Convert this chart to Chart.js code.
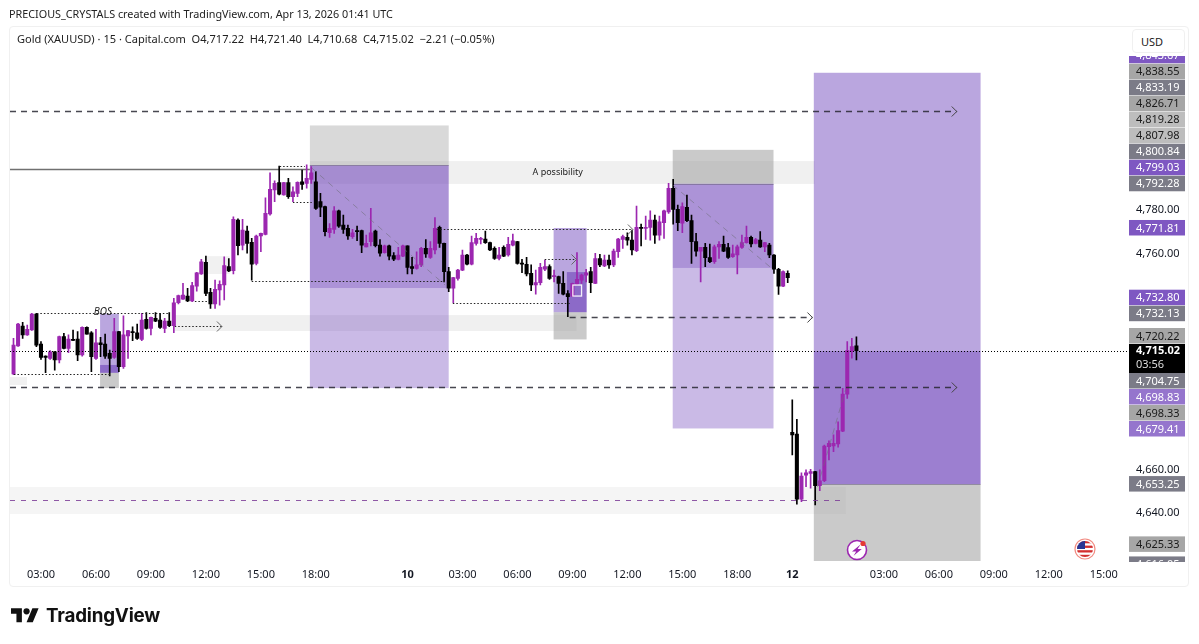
<!DOCTYPE html>
<html><head><meta charset="utf-8">
<style>
html,body{margin:0;padding:0;background:#fff;width:1199px;height:644px;overflow:hidden}
body{font-family:"Noto Sans",sans-serif;color:#131722;position:relative}
#frame{position:absolute;left:9px;top:26px;width:1180px;height:561px;border:1px solid #f0f0f0;border-radius:4px;box-sizing:border-box}
canvas{position:absolute;left:0;top:0}
#credit{position:absolute;left:9px;top:6px;font-size:10.8px;line-height:16px;white-space:nowrap;color:#222}
#legend{position:absolute;left:17px;top:31px;font-size:11.05px;line-height:16px;white-space:pre;color:#222}
#usd{position:absolute;left:1132px;top:29px;width:53px;height:24px;box-sizing:border-box;border:1px solid #f0f0f0;border-radius:4px;background:#fff;font-size:11px;line-height:24px;padding-left:8px;color:#222}
#brand{position:absolute;left:46px;top:602px;font-family:Inter,Roboto,sans-serif;font-weight:700;font-size:18.8px;line-height:28px;letter-spacing:-.2px;color:#111}
svg{position:absolute}
</style>
<script src="https://cdn.jsdelivr.net/npm/chart.js@4/dist/chart.umd.min.js"></script>
</head><body>
<div id="frame"></div>
<canvas id="c" width="1199" height="644"></canvas>
<div id="credit">PRECIOUS_CRYSTALS created with TradingView.com, Apr 13, 2026 01:41 UTC</div>
<div id="legend">Gold (XAUUSD) · 15 · Capital.com  O4,717.22  H4,721.40  L4,710.68  C4,715.02  −2.21 (−0.05%)</div>
<div id="usd">USD</div>
<svg style="left:11px;top:605px" width="28" height="22" viewBox="0 0 36 28"><path fill="#111" d="M14 22H7V11H0V4h14v18zM28 22h-8l7.5-18h8L28 22z"/><circle fill="#111" cx="20" cy="8" r="4"/></svg>
<div id="brand">TradingView</div>
<svg style="left:846px;top:539px" width="22" height="22" viewBox="0 0 22 22"><circle cx="11" cy="11" r="9.5" fill="#fff" stroke="#9c27b0" stroke-width="1.6"/><path d="M14.5 5.5L6 12.4h4.2L7.6 16.8l8.2-6.8h-4.2z" fill="#9c27b0"/><circle cx="17" cy="4.5" r="2.6" fill="#e53935"/></svg>
<svg style="left:1074px;top:538px" width="22" height="22" viewBox="0 0 22 22"><defs><clipPath id="fc"><circle cx="11" cy="11" r="8"/></clipPath></defs><circle cx="11" cy="11" r="10" fill="#fff" stroke="#f28b82" stroke-width="1.2"/><g clip-path="url(#fc)"><rect x="3" y="3" width="16" height="16" fill="#fff"/><rect x="3" y="3" width="16" height="2.3" fill="#d32f2f"/><rect x="3" y="7.6" width="16" height="2.3" fill="#d32f2f"/><rect x="3" y="12.2" width="16" height="2.3" fill="#d32f2f"/><rect x="3" y="16.8" width="16" height="2.3" fill="#d32f2f"/><rect x="3" y="3" width="8" height="8" fill="#283593"/></g></svg>
<script>
const opens=[4704.2,4717.2,4726.4,4722.3,4724.6,4732.0,4718.1,4712.5,4711.4,4714.5,4710.7,4721.5,4716.1,4720.1,4720.4,4713.0,4725.8,4723.3,4711.4,4718.7,4718.1,4713.8,4711.9,4723.8,4707.6,4721.8,4723.8,4723.3,4720.2,4729.5,4725.3,4730.0,4729.2,4725.3,4728.7,4726.6,4737.2,4738.9,4740.3,4738.1,4744.9,4750.5,4755.9,4742.0,4736.6,4743.1,4745.4,4753.9,4752.1,4775.5,4763.9,4770.4,4765.2,4755.4,4768.1,4768.8,4778.3,4789.4,4792.8,4787.1,4792.8,4786.3,4787.8,4793.2,4792.5,4794.3,4793.2,4784.0,4781.7,4769.6,4771.2,4779.8,4773.2,4771.6,4767.8,4770.4,4770.6,4763.1,4765.5,4770.4,4763.9,4760.4,4763.6,4759.0,4757.3,4758.8,4763.5,4753.9,4753.1,4754.7,4762.4,4758.2,4761.6,4772.1,4764.7,4751.6,4743.9,4748.5,4752.3,4759.3,4755.1,4764.7,4766.5,4766.7,4765.0,4762.4,4757.7,4762.8,4759.3,4763.9,4765.5,4755.4,4755.0,4750.8,4745.4,4746.5,4752.7,4753.9,4749.3,4749.3,4746.2,4741.5,4740.3,4745.9,4747.7,4750.0,4751.6,4746.2,4757.7,4754.2,4757.0,4754.7,4760.8,4766.5,4767.5,4766.2,4761.3,4772.1,4771.6,4772.1,4775.5,4768.5,4774.3,4779.3,4790.2,4780.4,4774.0,4781.4,4775.2,4765.5,4761.1,4762.8,4758.1,4756.2,4763.1,4764.2,4762.7,4758.5,4759.3,4762.8,4765.0,4767.5,4764.7,4766.2,4763.1,4763.9,4759.3,4752.7,4744.9,4750.8,4677.2,4676.4,4646.3,4657.4,4658.2,4659.0,4652.5,4654.8,4670.6,4670.9,4671.8,4677.8,4694.9,4714.7,4717.22];
const highs=[4720.7,4727.7,4728.1,4726.9,4732.3,4732.3,4719.2,4712.6,4715.0,4714.6,4721.8,4723.0,4722.3,4724.6,4723.8,4726.1,4726.1,4723.8,4724.9,4721.2,4722.7,4715.3,4730.0,4724.0,4731.2,4724.4,4726.1,4727.3,4732.3,4732.7,4730.6,4732.7,4732.3,4730.0,4732.6,4739.2,4740.8,4746.2,4743.9,4746.6,4751.3,4757.3,4758.8,4743.9,4747.7,4747.4,4758.5,4757.7,4777.0,4776.0,4775.8,4772.7,4767.0,4768.5,4769.5,4785.8,4797.4,4793.7,4800.5,4793.0,4794.8,4790.9,4793.2,4798.6,4801.0,4800.2,4797.9,4787.8,4782.0,4773.9,4781.7,4780.1,4777.8,4773.2,4771.2,4772.7,4770.9,4768.5,4780.9,4770.9,4766.5,4763.9,4763.9,4760.4,4762.8,4763.9,4763.6,4758.2,4760.8,4762.8,4766.5,4765.5,4776.6,4772.7,4764.8,4753.6,4749.0,4752.7,4761.6,4759.6,4768.1,4769.3,4767.5,4770.4,4765.3,4763.1,4762.8,4763.5,4767.5,4769.0,4765.6,4757.3,4758.2,4754.7,4752.3,4755.4,4757.0,4754.7,4752.3,4749.6,4751.6,4742.8,4746.3,4760.4,4750.5,4752.7,4753.6,4760.1,4759.6,4759.3,4759.3,4762.1,4767.0,4768.5,4769.6,4770.9,4782.0,4773.6,4777.3,4779.7,4777.8,4777.3,4780.1,4792.5,4794.3,4782.4,4783.5,4787.1,4777.8,4769.3,4762.8,4764.7,4764.4,4763.9,4765.5,4768.1,4764.7,4763.9,4763.9,4768.5,4772.7,4768.1,4767.0,4770.1,4765.2,4764.7,4759.5,4753.1,4752.0,4752.0,4692.2,4683.2,4658.5,4659.8,4660.1,4659.2,4659.8,4671.3,4673.3,4676.0,4682.1,4697.6,4719.2,4720.7,4721.40];
const lows=[4703.9,4717.0,4720.7,4722.1,4724.4,4716.9,4711.0,4704.8,4711.0,4706.0,4709.4,4715.8,4714.1,4719.6,4710.4,4712.5,4722.6,4705.3,4711.0,4712.2,4711.4,4703.3,4711.4,4705.3,4706.8,4711.4,4719.6,4720.2,4719.6,4725.0,4722.3,4728.4,4725.3,4723.3,4726.1,4723.3,4736.6,4738.7,4737.7,4737.7,4742.6,4750.3,4740.5,4734.6,4734.6,4736.1,4738.5,4751.6,4750.5,4759.3,4761.6,4760.1,4747.7,4754.7,4760.8,4768.6,4777.8,4784.0,4787.1,4787.0,4785.5,4784.0,4786.3,4789.7,4790.2,4792.5,4780.4,4777.0,4768.1,4767.5,4769.3,4772.1,4769.3,4766.5,4767.0,4765.9,4760.4,4763.0,4763.5,4763.1,4758.8,4760.1,4757.0,4756.7,4757.0,4758.5,4750.5,4750.5,4752.7,4753.9,4758.2,4757.7,4759.8,4762.8,4746.9,4742.3,4737.2,4747.7,4752.0,4754.7,4754.7,4763.9,4764.4,4764.7,4761.3,4757.3,4757.0,4758.5,4758.8,4763.5,4755.1,4751.1,4749.6,4742.8,4741.2,4745.4,4752.0,4748.0,4746.9,4741.5,4740.8,4730.7,4740.0,4745.4,4746.2,4746.9,4741.9,4746.0,4753.9,4753.9,4753.1,4753.9,4758.2,4762.4,4763.9,4759.3,4760.8,4763.5,4766.5,4766.2,4764.7,4766.2,4767.0,4778.6,4773.6,4770.6,4769.6,4774.7,4755.4,4758.8,4746.9,4753.9,4755.7,4755.4,4757.7,4760.8,4757.7,4758.2,4750.5,4762.4,4764.8,4763.1,4764.4,4762.8,4760.8,4758.1,4750.8,4741.1,4744.6,4746.5,4666.7,4644.0,4645.1,4652.0,4651.3,4643.6,4650.2,4654.4,4664.4,4668.2,4670.3,4677.5,4692.9,4711.5,4710.68];
const closes=[4717.6,4727.3,4722.3,4724.9,4732.0,4717.6,4711.9,4711.9,4714.5,4710.7,4721.5,4716.1,4720.4,4719.8,4713.0,4725.8,4722.7,4712.2,4718.7,4717.8,4712.5,4711.4,4723.8,4707.6,4722.3,4724.3,4723.3,4720.7,4729.2,4725.3,4730.4,4728.7,4725.8,4728.7,4726.6,4737.2,4740.5,4740.8,4738.1,4745.1,4751.0,4756.2,4741.5,4736.6,4743.4,4745.7,4754.4,4751.9,4775.8,4763.6,4770.9,4764.7,4755.1,4768.1,4769.3,4778.6,4789.7,4792.5,4787.5,4792.8,4786.3,4788.6,4793.0,4792.0,4794.8,4797.4,4780.9,4781.4,4770.1,4771.6,4779.8,4772.7,4771.2,4768.1,4769.6,4770.1,4763.9,4764.7,4769.6,4763.6,4760.1,4763.6,4758.8,4757.4,4759.3,4763.5,4753.6,4753.1,4754.7,4762.4,4759.8,4762.4,4771.6,4764.7,4751.6,4743.9,4748.9,4752.3,4759.3,4755.1,4765.0,4767.0,4767.0,4765.0,4761.6,4757.7,4759.3,4758.8,4764.2,4765.9,4755.4,4755.1,4750.5,4745.4,4746.5,4753.6,4753.9,4748.5,4749.6,4746.2,4741.2,4740.0,4746.2,4748.0,4750.0,4751.1,4746.5,4757.7,4754.7,4757.0,4754.7,4761.1,4766.7,4767.8,4766.2,4761.6,4772.1,4771.6,4771.9,4775.5,4768.5,4774.7,4779.8,4790.2,4780.4,4774.3,4781.7,4775.2,4765.5,4761.1,4762.8,4758.1,4756.2,4763.1,4764.2,4761.1,4758.2,4759.8,4763.1,4765.0,4767.5,4764.4,4766.5,4763.1,4765.0,4759.3,4752.7,4744.9,4751.6,4748.8,4676.0,4646.3,4657.0,4658.5,4659.0,4652.5,4654.8,4670.9,4672.1,4672.1,4678.0,4694.9,4715.0,4716.9,4715.02];
const slotCount=244;
const timeLabelIndex=[6,18,30,42,54,66,86,98,110,122,134,146,158,170,190,202,214,226,238];
const timeLabelText=['03:00','06:00','09:00','12:00','15:00','18:00','10','03:00','06:00','09:00','12:00','15:00','18:00','12','03:00','06:00','09:00','12:00','15:00'];
const yTicks=[4640,4660,4760,4780];
const lastPrice=4715.02, lastCountdown='03:56';
const priceAbove=[4843.67,4838.55,4833.19,4826.71,4819.28,4807.98,4800.84,4799.03,4792.28,4771.81,4732.80,4732.13,4720.22];
const priceBelow=[4704.75,4698.83,4698.33,4679.41,4653.25,4625.33,4616.05];
const priceKinds={4843.67:'p',4838.55:'m',4833.19:'d',4826.71:'m',4819.28:'l',4807.98:'l',4800.84:'d',4799.03:'p',4792.28:'d',4771.81:'p',4732.80:'p',4732.13:'d',4720.22:'m',4704.75:'d',4698.83:'q',4698.33:'m',4679.41:'q',4653.25:'d',4625.33:'m',4616.05:'d'};
/* zones: [from index, to index, top price, bottom price, kind] */
const strips=[[64.7,174.9,4802.8,4792.2,'#f0f0f0'],[35.2,122.9,4731.5,4724.1,'#f0f0f0'],[-0.76,181.7,4651.9,4639.4,'#f5f5f5'],[42.2,47.2,4758.8,4750.5,'#f1f1f1'],[-0.76,2.95,4702.8,4699.1,'#f1f1f1']];
const zones=[[64.7,95,4819.28,4800.84,'g2'],[64.7,95,4800.84,4744,'p2'],[64.7,95,4744,4697.7,'p0'],
[143.9,165.9,4807.98,4792.28,'g1'],[143.9,165.9,4792.28,4753.3,'p2'],[143.9,165.9,4753.3,4679,'p0'],
[174.7,211.1,4843.67,4715.02,'p1'],[174.7,211.1,4715.02,4653.25,'p3'],[174.7,211.1,4653.25,4617.64,'g1'],
[117.9,125.1,4771.81,4732.8,'p1'],[120.8,125.1,4751.4,4732.8,'p2'],[117.9,125.1,4732.8,4720.22,'g1'],
[18.9,23,4732.13,4704.75,'p1'],[18.9,23,4708.4,4704.75,'p2'],[18.9,23,4704.75,4697.7,'g1']];
const solidLines=[[-0.76,64.7,4799.03],[64.7,95,4800.84],[143.9,165.9,4792.28],[174.7,211.1,4653.25]];
const dashedLines=[[-0.76,205.9,4826.0],[-0.76,205.9,4698.0],[121.4,174.4,4730.6]];
const dottedLines=[[5.1,34.1,4732.3,0],[0.1,21.1,4704.2,0],[39.6,42.4,4738.1,0],[35.2,45.5,4726.6,1],[52,94.2,4747.4,0],[58.1,63.6,4800.6,0],[61,65.1,4784,0],[92.4,135.2,4771.3,1],[95.9,121.4,4737.2,0],[115.97,122.9,4757.3,1]];
const diagonals=[[65.1,4799.6,94.2,4745.4],[143.9,4791.7,165.7,4752.8],[175.5,4651.9,181.6,4696.8]];
const targetLine=[-0.76,181.7,4645.9];
const markerBox=[122.1,124,4745.4,4740.3];
const notes=[['A possibility',118.8,4797.7,'9px "Noto Sans"'],['BOS',19.5,4733,'italic 10px "Noto Sans"']];

const labels=Array.from({length:slotCount},()=> '');
timeLabelIndex.forEach((k,n)=>labels[k]=timeLabelText[n]);
const upColor='#9c27b0',downColor='#000000';
const candleColors=opens.map((o,i)=>closes[i]>=o?upColor:downColor);
const fmt=v=>v.toLocaleString('en-US',{minimumFractionDigits:2,maximumFractionDigits:2});
const fills={g1:'rgba(150,150,150,.5)',g2:'rgba(150,150,150,.36)',p0:'rgba(103,58,183,.35)',p1:'rgba(103,58,183,.45)',p2:'rgba(103,58,183,.55)',p3:'rgba(103,58,183,.65)'};
const pillStyles={p:['#7e57c2','#fff'],q:['#9575cd','#fff'],d:['#7b7b87','#fff'],m:['#a6a6a6','#1a1a1a'],l:['#bdbdbd','#1a1a1a']};

const overlay={id:'overlay',
 beforeDatasetsDraw(ch){const c=ch.ctx,x=ch.scales.x,y=ch.scales.y;c.save();
  strips.forEach(s=>{const a=x.getPixelForValue(s[0]),b=x.getPixelForValue(s[1]),t=y.getPixelForValue(s[2]),u=y.getPixelForValue(s[3]);
   c.fillStyle=s[4];c.fillRect(a,t,b-a,u-t);c.fillStyle='#fff';c.fillRect(a,t-1,b-a,1);c.fillRect(a,u,b-a,1);});
  zones.forEach(s=>{const a=x.getPixelForValue(s[0]),b=x.getPixelForValue(s[1]),t=y.getPixelForValue(s[2]),u=y.getPixelForValue(s[3]);
   c.fillStyle=fills[s[4]];c.fillRect(a,t,b-a,u-t);});
  solidLines.forEach((s,i)=>{const py=Math.round(y.getPixelForValue(s[2]))+.5;c.strokeStyle=i==0?'#707070':'rgba(110,100,130,.6)';c.lineWidth=i==0?1.6:1.2;c.beginPath();c.moveTo(x.getPixelForValue(s[0]),py);c.lineTo(x.getPixelForValue(s[1]),py);c.stroke();});
  c.restore();},
 afterDatasetsDraw(ch){const c=ch.ctx,x=ch.scales.x,y=ch.scales.y;c.save();
  const chev=(px,py,col)=>{c.setLineDash([]);c.strokeStyle=col;c.lineWidth=1;c.beginPath();c.moveTo(px-5,py-5);c.lineTo(px,py);c.lineTo(px-5,py+5);c.stroke();};
  const py0=Math.round(y.getPixelForValue(lastPrice))+.5;
  c.setLineDash([1,2]);c.strokeStyle='#000';c.lineWidth=1;c.beginPath();c.moveTo(x.getPixelForValue(-0.76),py0);c.lineTo(x.right,py0);c.stroke();
  dottedLines.forEach(d=>{const py=Math.round(y.getPixelForValue(d[2]))+.5,a=x.getPixelForValue(d[0]),b=x.getPixelForValue(d[1]);
   c.setLineDash([1.5,2]);c.strokeStyle='#222';c.lineWidth=1;c.beginPath();c.moveTo(a,py);c.lineTo(b,py);c.stroke();if(d[3])chev(b,py,'#666');});
  dashedLines.forEach(d=>{const py=Math.round(y.getPixelForValue(d[2]))+.5,a=x.getPixelForValue(d[0]),b=x.getPixelForValue(d[1]);
   c.setLineDash([6,5]);c.strokeStyle='rgba(40,40,50,.85)';c.lineWidth=1.5;c.beginPath();c.moveTo(a,py);c.lineTo(b,py);c.stroke();chev(b,py,'#444');});
  {const py=Math.round(y.getPixelForValue(targetLine[2]))+.5;c.setLineDash([5,6]);c.strokeStyle='rgba(123,60,150,.85)';c.lineWidth=1;c.beginPath();c.moveTo(x.getPixelForValue(targetLine[0]),py);c.lineTo(x.getPixelForValue(targetLine[1]),py);c.stroke();}
  diagonals.forEach(d=>{c.setLineDash([6,5]);c.strokeStyle='rgba(110,110,120,.55)';c.lineWidth=1;c.beginPath();c.moveTo(x.getPixelForValue(d[0]),y.getPixelForValue(d[1]));c.lineTo(x.getPixelForValue(d[2]),y.getPixelForValue(d[3]));c.stroke();});
  c.setLineDash([]);c.strokeStyle='rgba(255,255,255,.9)';c.lineWidth=1.3;
  {const a=x.getPixelForValue(markerBox[0]),b=x.getPixelForValue(markerBox[1]),t=y.getPixelForValue(markerBox[2]),u=y.getPixelForValue(markerBox[3]);c.strokeRect(a,t,b-a,u-t);}
  c.textAlign='center';c.textBaseline='middle';c.fillStyle='#222';
  notes.forEach(n=>{c.font=n[3];c.fillText(n[0],x.getPixelForValue(n[1]),y.getPixelForValue(n[2]));});
  c.restore();},
 afterDraw(ch){const c=ch.ctx,y=ch.scales.y;c.save();
  const L=ch.chartArea.right,W=56,H=16;
  c.beginPath();c.rect(L,56,W+2,506);c.clip();
  const boxTop=Math.round(y.getPixelForValue(lastPrice))-7,boxH=29;
  const pos={};let lim=boxTop-H/2;
  for(let k=priceAbove.length-1;k>=0;k--){const v=priceAbove[k],t=Math.min(y.getPixelForValue(v),lim);pos[v]=t;lim=t-H;}
  lim=boxTop+boxH+H/2;
  priceBelow.forEach(v=>{const t=Math.max(y.getPixelForValue(v),lim);pos[v]=t;lim=t+H;});
  c.textBaseline='middle';c.font='11px "Noto Sans"';
  [...priceAbove,...priceBelow].forEach(v=>{const s=pillStyles[priceKinds[v]];c.fillStyle=s[0];c.fillRect(L,pos[v]-H/2,W,H-.5);c.fillStyle=s[1];c.textAlign='left';c.fillText(fmt(v),L+7,pos[v]+.5);});
  c.fillStyle='#000';c.fillRect(L,boxTop,W,boxH);c.fillStyle='#fff';c.font='bold 11px "Noto Sans"';c.textAlign='left';c.fillText(fmt(lastPrice),L+7,boxTop+7);
  c.font='11px "Noto Sans"';c.fillStyle='#ddd';c.fillText(lastCountdown,L+7,boxTop+21);
  c.restore();}
};

new Chart(document.getElementById('c'),{
 type:'bar',
 data:{labels,datasets:[
  {label:'Wick',data:lows.map((l,i)=>[l,highs[i]]),backgroundColor:candleColors,barThickness:1,grouped:false,order:2},
  {label:'Body',data:opens.map((o,i)=>[o,closes[i]]),backgroundColor:candleColors,barThickness:3.4,grouped:false,minBarLength:1,order:1}
 ]},
 options:{responsive:false,animation:false,devicePixelRatio:1,
  layout:{padding:{left:11.2,top:54,right:0,bottom:0}},
  plugins:{legend:{display:false},tooltip:{enabled:false}},
  events:[],
  scales:{
   x:{type:'category',offset:true,border:{display:false},grid:{display:false,drawTicks:false},
    ticks:{autoSkip:false,maxRotation:0,minRotation:0,padding:7,color:'#131722',
     font:ctx=>({family:'"Noto Sans"',size:11,weight:(ctx.tick&&ctx.tick.label&&String(ctx.tick.label).length<=2)?'bold':'normal'})},
    afterFit(s){s.height=83;}},
   y:{type:'linear',position:'right',min:4617.64,max:4852.36,border:{display:false},grid:{display:false,drawTicks:false},
    ticks:{padding:7,color:'#131722',font:{family:'"Noto Sans"',size:11},callback:v=>fmt(v)},
    afterBuildTicks(s){s.ticks=yTicks.map(v=>({value:v}));},
    afterFit(s){s.width=70;}}
  }},
 plugins:[overlay]
});
</script>
</body></html>
